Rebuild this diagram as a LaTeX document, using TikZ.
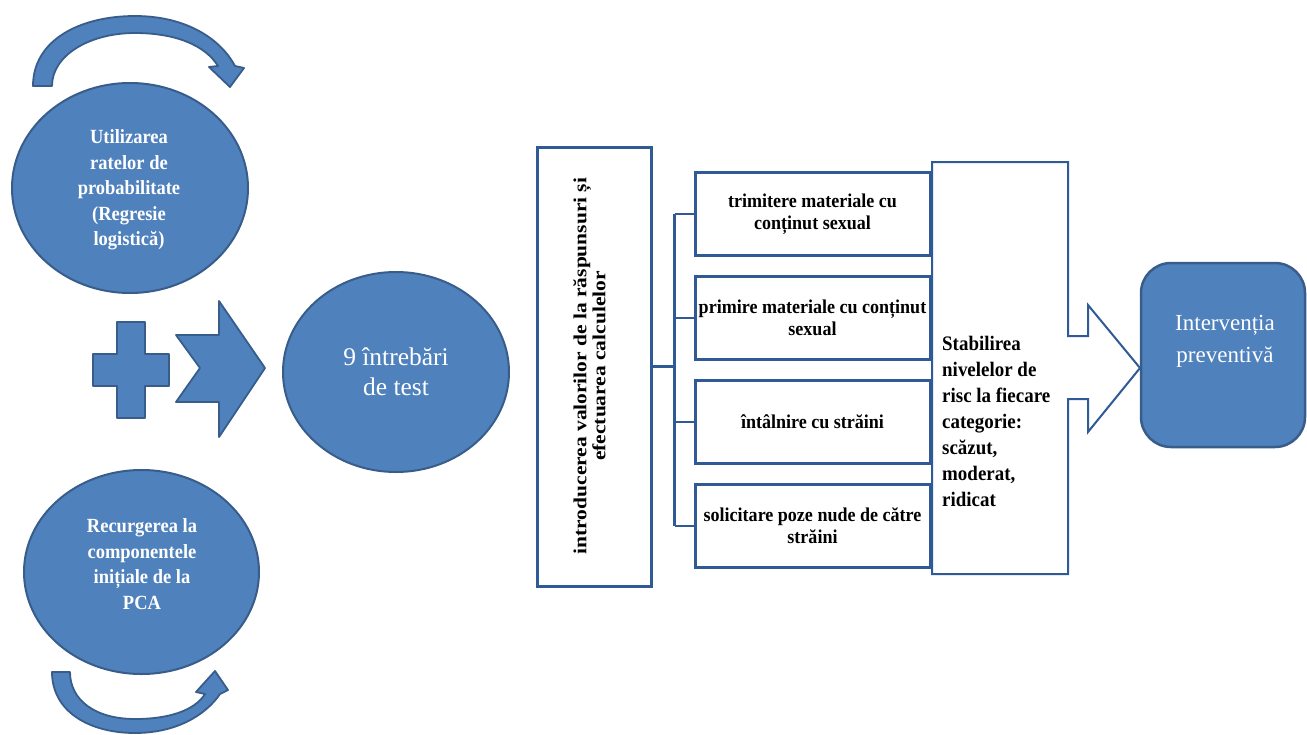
\documentclass[tikz,border=0pt]{standalone}
\usepackage{fontspec}
\setmainfont{Liberation Serif}
\newfontfamily\tallserif[FakeStretch=0.92]{Liberation Serif}
\usetikzlibrary{shapes.geometric}
\definecolor{fillblue}{HTML}{4F81BD}
\definecolor{edgeblue}{HTML}{385D8A}
\definecolor{boxblue}{HTML}{2F5A96}
\tikzset{
  blob/.style={ellipse, draw=edgeblue, line width=2pt, fill=fillblue, inner sep=0pt},
  wtext/.style={text=white, font=\tallserif\bfseries\fontsize{20.1}{25.5}\selectfont, align=center, inner sep=0pt},
  stepbox/.style={draw=boxblue, line width=3pt, minimum width=235pt, minimum height=83pt, inner sep=0pt, font=\tallserif\bfseries\fontsize{19.6}{22}\selectfont, align=center},
  shapefill/.style={fill=fillblue, draw=edgeblue, line width=1.8pt, line join=round},
  conn/.style={draw=boxblue, line width=2.5pt},
}
\begin{document}
\begin{tikzpicture}[x=1pt,y=-1pt]
\useasboundingbox (0,0) rectangle (1307,734);
\fill[white] (0,0) rectangle (1307,734);

% curved arrows
\path[shapefill] (33,86) .. controls (33,40) and (80,16) .. (135,16)
  .. controls (185,16) and (220,38) .. (235,66) -- (244,68) -- (230,87) -- (209,67) -- (218,66)
  .. controls (205,45) and (175,33) .. (135,33) .. controls (90,33) and (52,55) .. (52,86) -- cycle;
\path[shapefill] (52,672) .. controls (52,712) and (90,733) .. (135,733)
  .. controls (175,733) and (205,716) .. (220,694) -- (228,690) -- (215,671) -- (196,692) -- (205,694)
  .. controls (195,710) and (170,719) .. (135,719) .. controls (95,719) and (70,700) .. (70,672) -- cycle;

% left circles
\node[blob, minimum width=236pt, minimum height=210pt] (c1) at (130,188) {};
\node[wtext] (t1) at (129,190) {Utilizarea\\ratelor de\\probabilitate\\(Regresie\\logistică)};
\node[blob, minimum width=235pt, minimum height=204pt] (c2) at (141.5,572) {};
\node[wtext] (t2) at (142,564) {Recurgerea la\\componentele\\inițiale de la\\PCA};

% plus and chevron
\path[shapefill] (117,322) -- (145,322) -- (145,354) -- (169,354) -- (169,386) -- (145,386)
  -- (145,418) -- (117,418) -- (117,386) -- (93,386) -- (93,354) -- (117,354) -- cycle;
\path[shapefill] (176,335) -- (219,335) -- (219,301) -- (265,368) -- (219,437) -- (219,402)
  -- (176,402) -- (200,368) -- cycle;

% middle circle
\node[blob, minimum width=226pt, minimum height=200pt] (c3) at (396,372) {};
\node[text=white, font=\fontsize{25.5}{30}\selectfont, align=center, inner sep=0pt] (t3) at (396,372) {9 întrebări\\de test};

% vertical box
\node[draw=boxblue, line width=3pt, minimum width=114pt, minimum height=439pt, inner sep=0pt] (vbox) at (594,366.5) {};
\node[rotate=90, inner sep=0pt, font=\bfseries\fontsize{18.5}{19}\selectfont] (vtext) at (592,366)
  {\scalebox{1.16}[1]{\begin{tabular}{@{}c@{}}introducerea valorilor de la răspunsuri și\\efectuarea calculelor\end{tabular}}};

% right box with arrow
\path[draw=boxblue, line width=2pt, fill=white, line join=miter] (932,162) -- (1068,162) -- (1068,336) -- (1088,336) -- (1088,305)
  -- (1140,368) -- (1088,432) -- (1088,399) -- (1068,399) -- (1068,574) -- (932,574) -- cycle;
\node[anchor=west, align=left, inner sep=0pt, font=\tallserif\bfseries\fontsize{20.6}{26}\selectfont] (rtext) at (942,421.5)
  {Stabilirea\\nivelelor de\\risc la fiecare\\categorie:\\scăzut,\\moderat,\\ridicat};

% four boxes
\node[stepbox] (b1) at (812.5,214) {trimitere materiale cu\\conținut sexual};
\node[stepbox] (b2) at (812.5,318) {primire materiale cu conținut\\sexual};
\node[stepbox] (b3) at (812.5,422) {întâlnire cu străini};
\node[stepbox] (b4) at (812.5,526) {solicitare poze nude de către\\străini};

% connectors
\coordinate (fork) at ([xshift=22pt]vbox.east);
\draw[conn] (vbox.east) -- (fork);
\draw[conn] (fork |- b1.west) -- (fork |- b4.west);
\foreach \b in {b1,b2,b3,b4} \draw[conn] (fork |- \b.west) -- (\b.west);

% rounded box
\node[draw=edgeblue, line width=2.5pt, fill=fillblue, rounded corners=30pt, minimum width=164pt, minimum height=184pt, inner sep=0pt] (rb) at (1223,355) {};
\node[text=white, font=\fontsize{23}{32}\selectfont, align=center, inner sep=0pt] (rbt) at (1225,341) {Intervenția\\preventivă};
\end{tikzpicture}
\end{document}
